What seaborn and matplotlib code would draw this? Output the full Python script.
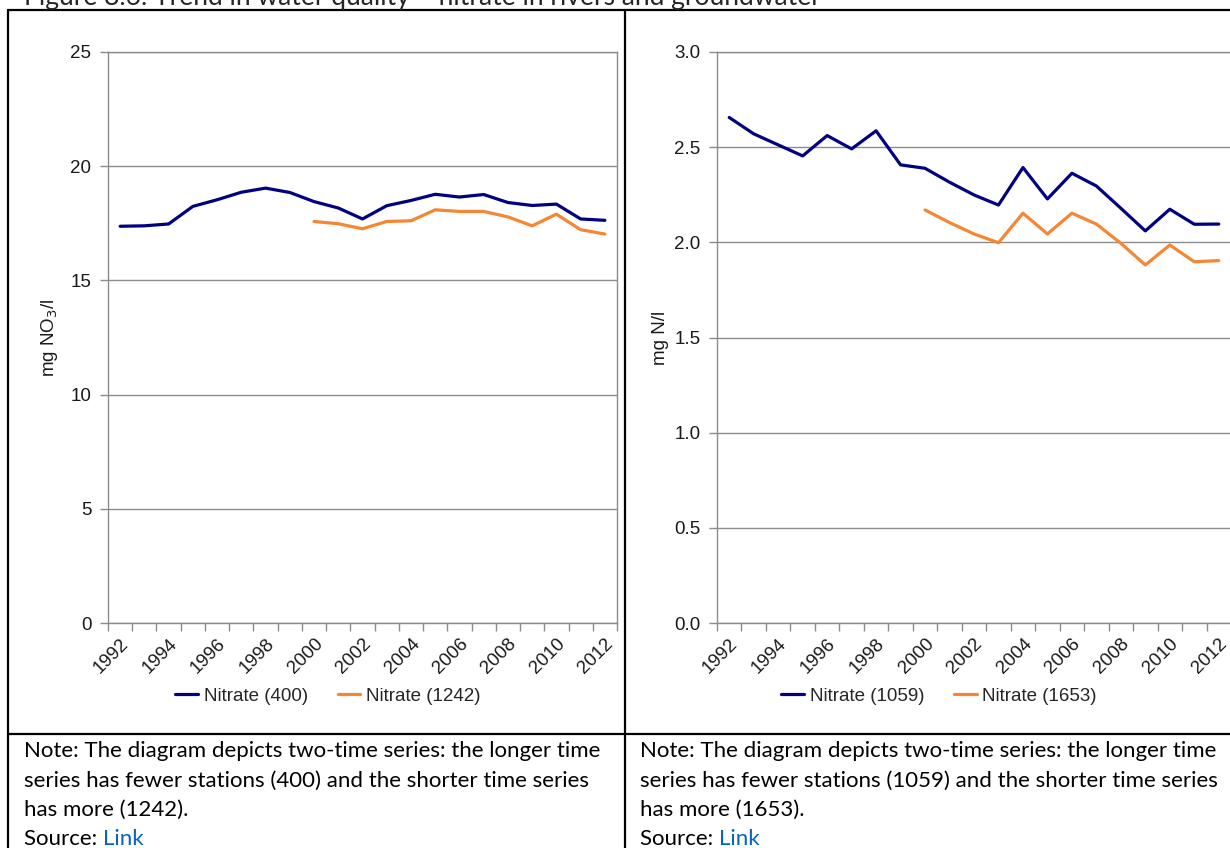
import numpy as np
import pandas as pd
import matplotlib
matplotlib.use('Agg')
import matplotlib.pyplot as plt
import seaborn as sns
from matplotlib.lines import Line2D
from matplotlib.ticker import FormatStrFormatter

# data
years_long = list(range(1992, 2013))
years_short = list(range(2000, 2013))

rivers_400 = [17.37, 17.39, 17.47, 18.24, 18.53, 18.86, 19.04, 18.85, 18.45, 18.17, 17.69,
              18.27, 18.50, 18.77, 18.65, 18.76, 18.41, 18.28, 18.34, 17.69, 17.63]
rivers_1242 = [17.58, 17.48, 17.26, 17.58, 17.61, 18.09, 18.02, 18.02, 17.78, 17.39, 17.90, 17.22, 17.03]

ground_1059 = [2.656, 2.570, 2.512, 2.454, 2.561, 2.491, 2.586, 2.407, 2.389, 2.316, 2.249,
               2.196, 2.393, 2.228, 2.363, 2.296, 2.179, 2.060, 2.174, 2.095, 2.096]
ground_1653 = [2.170, 2.104, 2.044, 1.998, 2.153, 2.044, 2.153, 2.096, 1.995, 1.881, 1.986, 1.898, 1.904]

left_labels = ['Nitrate (400)', 'Nitrate (1242)']
right_labels = ['Nitrate (1059)', 'Nitrate (1653)']
xtick_years = list(range(1992, 2013, 2))

notes_left = ['Note: The diagram depicts two-time series: the longer time',
              'series has fewer stations (400) and the shorter time series',
              'has more (1242).']
notes_right = ['Note: The diagram depicts two-time series: the longer time',
               'series has fewer stations (1059) and the shorter time series',
               'has more (1653).']
title = 'Figure 8.6: Trend in water quality \u2013 nitrate in rivers and groundwater'

NAVY = '#000080'
ORANGE = '#F58634'
GRID = '#8c8c8c'
TXT = '#1a1a1a'
FS = 13.5

sns.set_theme(style='white')
plt.rcParams['font.family'] = ['Liberation Sans', 'DejaVu Sans']

W, H = 1230, 848
fig = plt.figure(figsize=(W / 100, H / 100), dpi=100)


def px_axes(x0, x1, ytop, ybot):
    return fig.add_axes([x0 / W, 1 - ybot / H, (x1 - x0) / W, (ybot - ytop) / H])


def make_df(long_vals, short_vals, labels):
    a = pd.DataFrame({'year': years_long, 'value': long_vals, 'series': labels[0]})
    b = pd.DataFrame({'year': years_short, 'value': short_vals, 'series': labels[1]})
    return pd.concat([a, b], ignore_index=True)


def style_panel(ax, df, labels, ymax, ystep, ylabel, fmt):
    sns.lineplot(data=df, x='year', y='value', hue='series', hue_order=labels,
                 palette=[NAVY, ORANGE], linewidth=2.3, ax=ax)
    ax.set_xlim(1991.5, 2012.5)
    ax.set_ylim(0, ymax)
    ax.set_yticks(np.arange(0, ymax + ystep / 2, ystep))
    ax.yaxis.set_major_formatter(FormatStrFormatter(fmt))
    ax.set_xticks(xtick_years)
    ax.set_xticks(np.arange(1991.5, 2013, 1), minor=True)
    ax.set_xticklabels([str(y) for y in xtick_years], rotation=45, ha='right',
                       va='top', rotation_mode='anchor')
    ax.tick_params(axis='x', which='major', length=0, pad=9, labelsize=FS, labelcolor=TXT)
    ax.tick_params(axis='x', which='minor', length=6, width=1, color=GRID, bottom=True)
    ax.tick_params(axis='y', length=6, width=1, color=GRID, left=True, pad=6,
                   labelsize=FS, labelcolor=TXT)
    ax.yaxis.grid(True, color=GRID, linewidth=1)
    ax.xaxis.grid(False)
    for s in ax.spines.values():
        s.set_color(GRID)
        s.set_linewidth(1)
    ax.set_xlabel('')
    ax.set_ylabel(ylabel, fontsize=FS, color=TXT)
    ax.yaxis.set_label_coords(-0.094, 0.5)
    handles, labs = ax.get_legend_handles_labels()
    ax.legend(handles, labs, loc='center', bbox_to_anchor=(0.432, -0.128), ncol=2,
              frameon=False, fontsize=FS, handlelength=1.2, handletextpad=0.3,
              columnspacing=1.6)


ax1 = px_axes(108, 617, 52, 623)
style_panel(ax1, make_df(rivers_400, rivers_1242, left_labels), left_labels,
            25, 5, 'mg NO$_3$/l', '%d')

ax2 = px_axes(717, 1231, 52, 623)
style_panel(ax2, make_df(ground_1059, ground_1653, right_labels), right_labels,
            3.0, 0.5, 'mg N/l', '%.1f')


# table borders
def fig_line(x0, y0, x1, y1, lw=1.6):
    fig.add_artist(Line2D([x0 / W, x1 / W], [1 - y0 / H, 1 - y1 / H],
                          transform=fig.transFigure, color='black', linewidth=lw))


fig_line(8, 10, 1232, 10)
fig_line(8, 10, 8, 850)
fig_line(625, 10, 625, 850)
fig_line(8, 734, 1232, 734)

# notes under the charts
note_font = ['Lato', 'DejaVu Sans']
NFS = 16
line_y = [751, 781, 810]
for xs, notes in [(24, notes_left), (640, notes_right)]:
    for y, t in zip(line_y, notes):
        fig.text(xs / W, 1 - y / H, t, fontsize=NFS, family=note_font, va='center', ha='left',
                 color='black')
    src = fig.text(xs / W, 1 - 839 / H, 'Source: ', fontsize=NFS, family=note_font,
                   va='center', ha='left', color='black')
    fig.canvas.draw()
    bb = src.get_window_extent()
    fig.text(bb.x1 / W, 1 - 839 / H, 'Link', fontsize=NFS, family=note_font,
             va='center', ha='left', color='#0563C1')

# title, cut off by the top of the page in the reference
fig.text(24 / W, 1 - 5 / H, title, fontsize=19, family=note_font, va='baseline', ha='left')

fig.savefig('out.png', dpi=100)
